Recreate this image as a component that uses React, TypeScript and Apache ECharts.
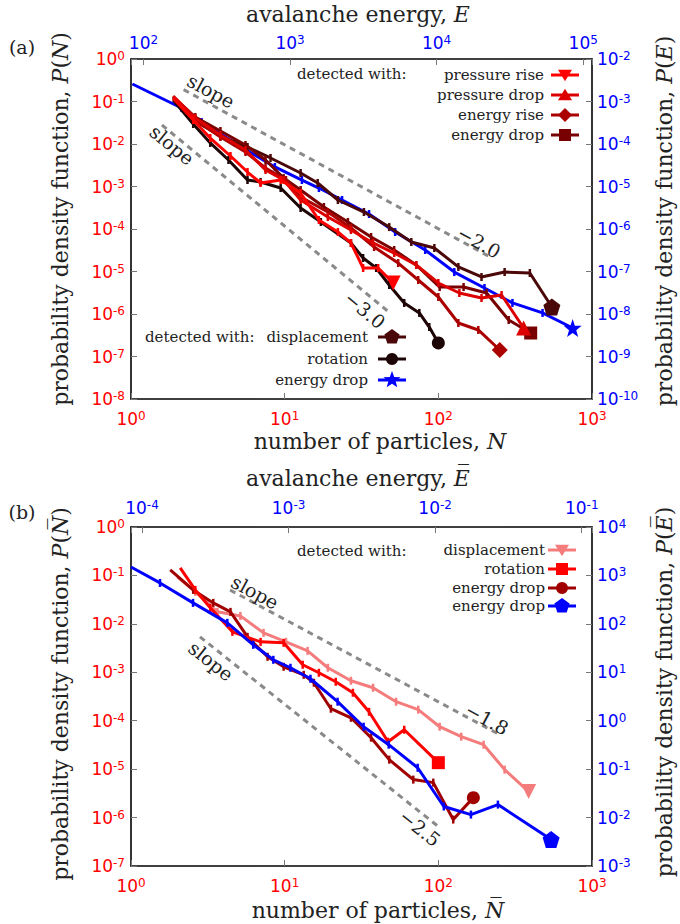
import React, { useEffect, useRef } from 'react';
import * as echarts from 'echarts';

const SERIF = '"DejaVu Serif", serif';
const SANS = '"DejaVu Sans", sans-serif';
const RED = '#ff0000';
const BLUE = '#0000ff';

// ---------- panel (a) ----------
const aPRiseN = [1.88, 2.54, 3.28, 4.44, 5.73, 6.97, 9.42, 12.7, 16.7, 22.2, 27.0, 32.4, 40.6, 50.8];
const aPRiseP = [0.121, 0.0367, 0.0138, 0.00522, 0.00219, 0.00121, 0.00142, 7.03e-4, 1.63e-4, 8.5e-5, 4.69e-5, 1.21e-5, 1.21e-5, 5.36e-6];

const aPDropN = [1.88, 2.62, 3.82, 5.56, 7.51, 9.85, 12.7, 19.1, 27.0, 37.6, 51.6, 71.8, 100, 137, 191, 258, 359];
const aPDropP = [0.135, 0.0409, 0.0163, 0.00723, 0.00244, 0.00142, 4.81e-4, 1.91e-4, 9.47e-5, 4.69e-5, 2.72e-5, 1.42e-5, 5.36e-6, 3.12e-6, 2.38e-6, 2.8e-6, 4.69e-7];

const aERiseN = [1.88, 2.62, 3.82, 5.56, 7.51, 10.2, 12.7, 19.1, 27.0, 38.2, 54.8, 74.0, 100, 135, 182, 251];
const aERiseP = [0.115, 0.0367, 0.0146, 0.00648, 0.00272, 0.00142, 5.66e-4, 2.51e-4, 1.06e-4, 3.77e-5, 1.58e-5, 6.31e-6, 2.51e-6, 6.14e-7, 4.21e-7, 1.42e-7];

const aEDropN = [1.88, 2.62, 3.82, 5.56, 7.51, 9.85, 12.7, 18.0, 25.8, 36.5, 51.6, 71.8, 102, 146, 206, 287, 399];
const aEDropP = [0.128, 0.0432, 0.0202, 0.00947, 0.0042, 0.00158, 8.27e-4, 3.3e-4, 1.46e-4, 6.49e-5, 3.21e-5, 1.42e-5, 4.31e-6, 4.31e-6, 3.12e-6, 7.23e-7, 3.57e-7];

const aDispN = [1.88, 2.54, 3.82, 5.73, 8.09, 12.7, 16.4, 22.2, 32.8, 47.9, 66.7, 94.2, 135, 191, 270, 394, 548];
const aDispP = [0.128, 0.0367, 0.0154, 0.00849, 0.00469, 0.00208, 0.00121, 4.81e-4, 2.51e-4, 1.11e-4, 4.94e-5, 3.57e-5, 1.28e-5, 7.43e-6, 9.73e-6, 9.22e-6, 1.46e-6];

const aRotN = [1.88, 2.54, 3.28, 4.31, 5.73, 6.97, 9.42, 12.7, 17.2, 27.0, 32.4, 39.4, 47.9, 60.0, 75.2, 87.3, 100];
const aRotP = [0.108, 0.0296, 0.0106, 0.0042, 0.00142, 0.00128, 9.2e-4, 3.12e-4, 1.46e-4, 4.69e-5, 2.08e-5, 1.21e-5, 4.81e-6, 1.82e-6, 1.06e-6, 4.94e-7, 2.08e-7];

// energy-drop avalanches on the energy axes (top / right)
const aBlueE = [84, 182, 249, 420, 788, 1205, 1574, 2264, 3459, 5212, 8356, 13200, 21200, 32900, 52800, 84700];
const aBlueP = [2.58e-3, 7.03e-4, 3.3e-4, 1.06e-4, 2.88e-5, 1.42e-5, 9.2e-6, 4.81e-6, 2.25e-6, 8.5e-7, 3.21e-7, 9.7e-8, 4.09e-8, 1.82e-8, 1.06e-8, 4.69e-9];

const aSlope2N = [2.2, 217];
const aSlope2P = [0.19, 2.2e-5];
const aSlope3N = [1.59, 48.4];
const aSlope3P = [0.028, 1.06e-6];

// ---------- panel (b) ----------
const bDispN = [2.0, 2.62, 3.65, 5.15, 7.29, 10.2, 14.1, 19.1, 27.0, 37.6, 53.1, 74.0, 102, 141, 197, 270, 387];
const bDispP = [0.0931, 0.0457, 0.0177, 0.0146, 6.52e-3, 4.25e-3, 2.77e-3, 1.24e-3, 6.68e-4, 4.79e-4, 2.47e-4, 1.69e-4, 7.52e-5, 4.68e-5, 3.2e-5, 9.77e-6, 3.44e-6];

const bRotN = [2.09, 2.62, 3.28, 4.57, 6.97, 9.85, 13.1, 16.7, 21.5, 27.8, 35.4, 47.1, 60.0, 100];
const bRotP = [0.143, 0.0502, 0.0214, 6.84e-3, 4.25e-3, 4.06e-3, 1.43e-3, 9.77e-4, 6.37e-4, 3.78e-4, 1.53e-4, 3.69e-5, 6.52e-5, 1.36e-5];

const bEDropN = [1.8, 2.54, 3.43, 4.44, 5.73, 7.74, 9.85, 13.3, 15.5, 20.0, 27.0, 36.5, 47.9, 68.7, 92.7, 125, 169];
const bEDropP = [0.13, 0.0502, 0.0271, 0.0177, 5.4e-3, 2.09e-3, 1.3e-3, 8.88e-4, 6.08e-4, 1.77e-4, 1.15e-4, 4.46e-5, 1.57e-5, 6.08e-6, 5.27e-6, 9.1e-7, 2.58e-6];

const bBlueE = [8.41e-5, 1.327e-4, 2.23e-4, 3.82e-4, 5.74e-4, 7.87e-4, 1.03e-3, 1.41e-3, 2.16e-3, 3.25e-3, 4.82e-3, 7.6e-3, 0.01146, 0.01754, 0.0268, 0.0618];
const bBlueP = [1496, 700, 271, 105, 36.9, 18.1, 12.4, 7.35, 2.47, 0.752, 0.32, 0.107, 0.0169, 0.01153, 0.01854, 3.52e-3];

const bSlope18N = [4.41, 252];
const bSlope18P = [0.05, 5.1e-5];
const bSlope25N = [2.81, 102];
const bSlope25P = [5.4e-3, 6.2e-7];

// axis ranges (decades)
const aTopRange = [Math.pow(10, 1.915), Math.pow(10, 5.06)];
const bTopRange = [Math.pow(10, -4.075), Math.pow(10, -0.93)];

const PENTAGON = 'path://M0,-10L9.51,-3.09L5.88,8.09L-5.88,8.09L-9.51,-3.09Z';
const STAR = 'path://M0,-10L2.35,-3.24L9.51,-3.09L3.8,1.24L5.88,8.09L0,4L-5.88,8.09L-3.8,1.24L-9.51,-3.09L-2.35,-3.24Z';

function mk(xs: number[], ys: number[], endSymbol: string, endSize: number, endRotate = 0) {
  return xs.map((x, i) => {
    if (i === xs.length - 1) return { value: [x, ys[i]], symbol: endSymbol, symbolSize: endSize, symbolRotate: endRotate };
    if (i === 0) return { value: [x, ys[i]], symbol: 'none' };
    return { value: [x, ys[i]], symbol: 'rect', symbolSize: [2.5, 8] };
  });
}

function line(color: string, data: any[], xi: number, yi: number, z: number) {
  return {
    type: 'line', data, xAxisIndex: xi, yAxisIndex: yi, z, silent: true,
    showAllSymbol: true, clip: false,
    lineStyle: { color, width: 3 }, itemStyle: { color },
  };
}

function slope(xs: number[], ys: number[], xi: number, yi: number) {
  return {
    type: 'line', data: xs.map((x, i) => [x, ys[i]]), xAxisIndex: xi, yAxisIndex: yi, symbol: 'none', silent: true, z: 1,
    lineStyle: { color: '#8a8a8a', width: 3, type: [6, 5] },
  };
}

function logLabel(color: string, margin: number) {
  return {
    margin, color,
    formatter: (v: number) => {
      const e = Math.log10(v); const r = Math.round(e);
      if (Math.abs(e - r) > 1e-6) return '';
      return `{b|10}{s|${r}}`;
    },
    rich: {
      b: { fontFamily: SANS, fontSize: 17, color, lineHeight: 18 },
      s: { fontFamily: SANS, fontSize: 12, color, lineHeight: 8, verticalAlign: 'top' },
    },
  };
}

function axis(grid: number, position: string, min: number, max: number, color: string, margin: number) {
  return {
    type: 'log', gridIndex: grid, position, min, max,
    axisLine: { show: true, onZero: false, lineStyle: { color: '#000', width: 1.6 } },
    axisTick: { show: true, inside: true, length: 6, lineStyle: { color: '#777', width: 1 } },
    minorTick: { show: false }, splitLine: { show: false }, minorSplitLine: { show: false },
    axisLabel: logLabel(color, margin),
  };
}

function txt(x: number, y: number, text: string, size: number, rotation = 0, align = 'center') {
  return {
    type: 'text', x, y, rotation, silent: true, z: 100,
    style: {
      text, fill: '#222', fontFamily: SERIF, fontSize: size,
      align, textAlign: align, verticalAlign: 'middle', textVerticalAlign: 'middle',
      rich: {
        i: { fontFamily: SERIF, fontStyle: 'italic', fontSize: size, fill: '#222', color: '#222' },
      },
    },
  };
}

function sym(kind: string, cx: number, cy: number, color: string): any {
  const r = 7;
  const st = { fill: color };
  switch (kind) {
    case 'tdown': return { type: 'polygon', shape: { points: [[cx - r, cy - r * 0.75], [cx + r, cy - r * 0.75], [cx, cy + r * 0.9]] }, style: st };
    case 'tup': return { type: 'polygon', shape: { points: [[cx - r, cy + r * 0.75], [cx + r, cy + r * 0.75], [cx, cy - r * 0.9]] }, style: st };
    case 'diamond': return { type: 'polygon', shape: { points: [[cx, cy - r], [cx + r, cy], [cx, cy + r], [cx - r, cy]] }, style: st };
    case 'square': return { type: 'rect', shape: { x: cx - 6, y: cy - 6, width: 12, height: 12 }, style: st };
    case 'circle': return { type: 'circle', shape: { cx, cy, r: 6 }, style: st };
    case 'pentagon': {
      const pts = [0, 1, 2, 3, 4].map(k => { const a = -Math.PI / 2 + k * 2 * Math.PI / 5; return [cx + 8 * Math.cos(a), cy + 8 * Math.sin(a)]; });
      return { type: 'polygon', shape: { points: pts }, style: st };
    }
    case 'star': {
      const pts = [];
      for (let k = 0; k < 10; k++) { const a = -Math.PI / 2 + k * Math.PI / 5; const rr = k % 2 === 0 ? 9 : 3.8; pts.push([cx + rr * Math.cos(a), cy + rr * Math.sin(a)]); }
      return { type: 'polygon', shape: { points: pts }, style: st };
    }
  }
  return null;
}

const LEG = 15;

function legendRow(label: string, kind: string, color: string, textRight: number, cx: number, cy: number) {
  return [
    txt(textRight, cy, label, LEG, 0, 'right'),
    { type: 'line', silent: true, z: 100, shape: { x1: cx - 14, y1: cy, x2: cx + 14, y2: cy }, style: { stroke: color, lineWidth: 3 } },
    { ...sym(kind, cx, cy, color), silent: true, z: 101 },
  ];
}

const C = {
  aPRise: '#ff0000', aPDrop: '#dd0000', aERise: '#aa0000', aEDrop: '#780000',
  aDisp: '#4a0808', aRot: '#1e0505',
  bDisp: '#f47c7c', bRot: '#ff0000', bEDrop: '#a00000',
};

const TITLE = 22;

export default function App() {
  const ref = useRef<HTMLDivElement>(null);
  useEffect(() => {
    document.body.style.margin = '0';
    const chart = echarts.init(ref.current!, null, { renderer: 'svg' });
    const deg = (d: number) => (d * Math.PI) / 180;
    const option: any = {
      animation: false,
      backgroundColor: '#fff',
      grid: [
        { left: 131, top: 59, width: 461, height: 340 },
        { left: 131, top: 527, width: 461, height: 339 },
      ],
      xAxis: [
        axis(0, 'bottom', 1, 1000, RED, 11),
        axis(0, 'top', aTopRange[0], aTopRange[1], BLUE, 7),
        axis(1, 'bottom', 1, 1000, RED, 11),
        axis(1, 'top', bTopRange[0], bTopRange[1], BLUE, 10),
      ],
      yAxis: [
        axis(0, 'left', 1e-8, 1, RED, 6),
        axis(0, 'right', 1e-10, 1e-2, BLUE, 5),
        axis(1, 'left', 1e-7, 1, RED, 6),
        axis(1, 'right', 1e-3, 1e4, BLUE, 5),
      ],
      series: [
        slope(aSlope2N, aSlope2P, 0, 0),
        slope(aSlope3N, aSlope3P, 0, 0),
        line(BLUE, mk(aBlueE, aBlueP, STAR, 18), 1, 1, 2),
        line(C.aDisp, mk(aDispN, aDispP, PENTAGON, 17), 0, 0, 3),
        line(C.aRot, mk(aRotN, aRotP, 'circle', 13), 0, 0, 4),
        line(C.aEDrop, mk(aEDropN, aEDropP, 'rect', 13), 0, 0, 5),
        line(C.aERise, mk(aERiseN, aERiseP, 'diamond', 16), 0, 0, 6),
        line(C.aPDrop, mk(aPDropN, aPDropP, 'triangle', 15), 0, 0, 7),
        line(C.aPRise, mk(aPRiseN, aPRiseP, 'triangle', 15, 180), 0, 0, 8),

        slope(bSlope18N, bSlope18P, 2, 2),
        slope(bSlope25N, bSlope25P, 2, 2),
        line(C.bDisp, mk(bDispN, bDispP, 'triangle', 15, 180), 2, 2, 3),
        line(C.bRot, mk(bRotN, bRotP, 'rect', 13), 2, 2, 5),
        line(C.bEDrop, mk(bEDropN, bEDropP, 'circle', 13), 2, 2, 4),
        line(BLUE, mk(bBlueE, bBlueP, PENTAGON, 17), 3, 3, 6),
      ],
      graphic: [
        // panel labels
        txt(22, 47, '(a)', 19),
        txt(22, 512, '(b)', 19),
        // axis titles (a)
        txt(358, 14, 'avalanche energy, {i|E}', TITLE),
        txt(380, 441, 'number of particles, {i|N}', TITLE),
        txt(60, 219, 'probability density function, {i|P}({i|N})', TITLE, Math.PI / 2),
        txt(664, 221, 'probability density function, {i|P}({i|E})', TITLE, Math.PI / 2),
        // axis titles (b)
        txt(358, 478, 'avalanche energy, {i|E\u0305}', TITLE),
        txt(378, 910, 'number of particles, {i|N\u0305}', TITLE),
        txt(60, 694, 'probability density function, {i|P}({i|N\u0305})', TITLE, Math.PI / 2),
        txt(664, 692, 'probability density function, {i|P}({i|E\u0305})', TITLE, Math.PI / 2),
        // slope annotations
        txt(211, 91, 'slope', 19, deg(-28.5)),
        txt(479, 242, '\u22122.0', 19, deg(-28.5)),
        txt(172, 145, 'slope', 19, deg(-39.5)),
        txt(365, 310, '\u22123.0', 19, deg(-39.5)),
        txt(255, 592, 'slope', 19, deg(-28.2)),
        txt(487, 719, '\u22121.8', 19, deg(-28.2)),
        txt(211, 661, 'slope', 19, deg(-38.5)),
        txt(420, 828, '\u22122.5', 19, deg(-38.5)),
        // legend (a) top
        txt(297, 74, 'detected with:', LEG, 0, 'left'),
        ...legendRow('pressure rise', 'tdown', C.aPRise, 544, 565, 75),
        ...legendRow('pressure drop', 'tup', C.aPDrop, 544, 565, 95),
        ...legendRow('energy rise', 'diamond', C.aERise, 544, 565, 115),
        ...legendRow('energy drop', 'square', C.aEDrop, 544, 565, 135),
        // legend (a) bottom
        txt(145, 337, 'detected with:', LEG, 0, 'left'),
        ...legendRow('displacement', 'pentagon', C.aDisp, 368, 392, 337),
        ...legendRow('rotation', 'circle', C.aRot, 368, 392, 359),
        ...legendRow('energy drop', 'star', BLUE, 368, 392, 380),
        // legend (b)
        txt(297, 551, 'detected with:', LEG, 0, 'left'),
        ...legendRow('displacement', 'tdown', C.bDisp, 545, 562, 550),
        ...legendRow('rotation', 'square', C.bRot, 545, 562, 569),
        ...legendRow('energy drop', 'circle', C.bEDrop, 545, 562, 588),
        ...legendRow('energy drop', 'pentagon', BLUE, 545, 562, 606),
      ],
    };
    chart.setOption(option);
    return () => chart.dispose();
  }, []);
  return <div ref={ref} style={{ width: 680, height: 924 }} />;
}
